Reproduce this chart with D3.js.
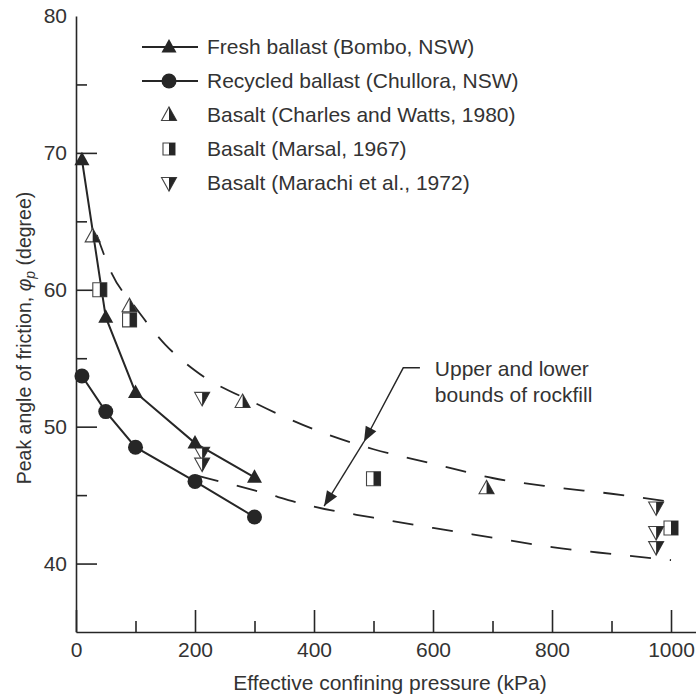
<!DOCTYPE html>
<html>
<head>
<meta charset="utf-8">
<script src="https://cdn.jsdelivr.net/npm/d3@7"></script>
<style>
  body { margin: 0; background: #fff; }
  text { font-family: "Liberation Sans", Arial, sans-serif; fill: #333; }
</style>
</head>
<body>
<div id="wrapper"></div>
<script>
// values (kPa, degrees)
const freshX = [10, 50, 100, 200, 300]
const freshY = [69.5, 58.0, 52.5, 48.8, 46.3]
const recycledX = [10, 50, 100, 200, 300]
const recycledY = [53.7, 51.1, 48.5, 46.0, 43.4]
const charlesX = [28, 90, 280, 690]
const charlesY = [63.9, 58.8, 51.8, 45.5]
const marsalX = [40, 90, 500, 1000]
const marsalY = [60.0, 57.8, 46.2, 42.6]
const marachiX = [212, 212, 212, 975, 975, 975]
const marachiY = [52.1, 48.1, 47.3, 44.1, 42.3, 41.2]

// upper and lower bounds of rockfill (dashed)
const upperX = [35, 60, 100, 150, 200, 300, 400, 500, 600, 700, 800, 900, 1000]
const upperY = [64.0, 61.2, 58.7, 56.0, 54.1, 51.75, 49.8, 48.35, 47.3, 46.25, 45.6, 45.1, 44.5]
const lowerX = [205, 300, 400, 500, 600, 700, 800, 900, 1000]
const lowerY = [46.4, 45.35, 44.15, 43.35, 42.6, 41.9, 41.2, 40.7, 40.25]

const xMajor = [0, 200, 400, 600, 800, 1000]
const xMinor = [100, 300, 500, 700, 900]
const yMajor = [40, 50, 60, 70, 80]
const yMinor = [45, 55, 65, 75]

const legendLabels = [
  "Fresh ballast (Bombo, NSW)",
  "Recycled ballast (Chullora, NSW)",
  "Basalt (Charles and Watts, 1980)",
  "Basalt (Marsal, 1967)",
  "Basalt (Marachi et al., 1972)"
]

const ink = "#262626"

function drawChart() {
  const width = 696
  const height = 695

  const svg = d3.select("#wrapper")
    .append("svg")
      .attr("width", width)
      .attr("height", height)

  // scales: left axis sits at 76px, bottom axis at 632px
  const x = d3.scaleLinear().domain([0, 1042]).range([76, 696])
  const y = d3.scaleLinear().domain([35, 80]).range([632, 16])

  const zip = (xs, ys) => xs.map((d, i) => [d, ys[i]])

  // axes (ticks point inward)
  svg.append("g")
    .attr("transform", `translate(0, ${y(35)})`)
    .call(d3.axisBottom(x).tickValues(xMajor).tickFormat(d3.format("d"))
      .tickSize(-22).tickSizeOuter(0).tickPadding(10))
  svg.append("g")
    .attr("transform", `translate(0, ${y(35)})`)
    .call(d3.axisBottom(x).tickValues(xMinor).tickSize(-11).tickSizeOuter(0).tickFormat(""))
    .select(".domain").remove()

  const yAxis = svg.append("g")
    .attr("transform", `translate(${x(0)}, 0)`)
    .call(d3.axisLeft(y).tickValues(yMajor).tickSize(-21).tickSizeOuter(0).tickPadding(9))
  svg.append("g")
    .attr("transform", `translate(${x(0)}, 0)`)
    .call(d3.axisLeft(y).tickValues(yMinor).tickSize(-11).tickSizeOuter(0).tickFormat(""))
    .select(".domain").remove()

  // no tick mark at the very top
  yAxis.selectAll(".tick").filter(d => d === 80).select("line").remove()

  svg.selectAll(".domain, .tick line")
    .attr("stroke", ink)
    .attr("stroke-width", 1.6)
  svg.selectAll(".tick text")
    .attr("font-size", 21)
    .attr("font-family", "Liberation Sans, Arial, sans-serif")
    .attr("fill", "#333")

  // axis titles
  svg.append("text")
    .attr("x", 390)
    .attr("y", 690)
    .attr("text-anchor", "middle")
    .attr("font-size", 21)
    .text("Effective confining pressure (kPa)")

  const yTitle = svg.append("text")
    .attr("transform", "translate(31, 338) rotate(-90)")
    .attr("text-anchor", "middle")
    .attr("font-size", 19.5)
  yTitle.append("tspan").text("Peak angle of friction, ")
  yTitle.append("tspan").attr("font-style", "italic").text("\u03c6")
  yTitle.append("tspan").attr("font-style", "italic").attr("font-size", 14).attr("dy", 4).text("p")
  yTitle.append("tspan").attr("dy", -4).text(" (degree)")

  // dashed bounds
  const curve = d3.line()
    .x(d => x(d[0]))
    .y(d => y(d[1]))
    .curve(d3.curveMonotoneX)

  svg.selectAll(".bound")
    .data([zip(upperX, upperY), zip(lowerX, lowerY)])
    .join("path")
      .attr("class", "bound")
      .attr("d", curve)
      .attr("fill", "none")
      .attr("stroke", ink)
      .attr("stroke-width", 1.8)
      .attr("stroke-dasharray", "21,19")

  // solid series lines
  const straight = d3.line().x(d => x(d[0])).y(d => y(d[1]))
  svg.selectAll(".series")
    .data([zip(freshX, freshY), zip(recycledX, recycledY)])
    .join("path")
      .attr("class", "series")
      .attr("d", straight)
      .attr("fill", "none")
      .attr("stroke", ink)
      .attr("stroke-width", 2)

  // marker drawing helpers
  const triUp = "M0,-8L7.5,5.5L-7.5,5.5Z"
  const triUpHalf = "M0,-8L7.5,5.5L0,5.5Z"
  const triDown = "M-7.5,-5.5L7.5,-5.5L0,8Z"
  const triDownHalf = "M0,-5.5L7.5,-5.5L0,8Z"
  const square = "M-7,-7L7,-7L7,7L-7,7Z"
  const squareHalf = "M0,-7L7,-7L7,7L0,7Z"

  function fullMarker(g, shape) {
    if (shape === "circle") {
      g.append("circle").attr("r", 7.5).attr("fill", ink)
    } else {
      g.append("path").attr("d", triUp).attr("fill", ink)
    }
  }

  function halfMarker(g, outline, half) {
    g.append("path").attr("d", outline)
      .attr("fill", "#fff").attr("stroke", "#444").attr("stroke-width", 1.1)
    g.append("path").attr("d", half).attr("fill", ink)
  }

  function plotPoints(xs, ys, draw) {
    svg.append("g")
      .selectAll("g")
      .data(zip(xs, ys))
      .join("g")
        .attr("transform", d => `translate(${x(d[0])}, ${y(d[1])})`)
        .each(function() { draw(d3.select(this)) })
  }

  plotPoints(charlesX, charlesY, g => halfMarker(g, triUp, triUpHalf))
  plotPoints(marsalX, marsalY, g => halfMarker(g, square, squareHalf))
  plotPoints(marachiX, marachiY, g => halfMarker(g, triDown, triDownHalf))
  plotPoints(freshX, freshY, g => fullMarker(g, "tri"))
  plotPoints(recycledX, recycledY, g => fullMarker(g, "circle"))

  // annotation with two arrows
  const bend = [x(578), y(54.3)]
  const corner = [x(550), y(54.3)]
  const upTip = [x(484), y(48.9)]
  const lowTip = [x(417), y(44.2)]

  svg.append("path")
    .attr("d", d3.line()([bend, corner, upTip]))
    .attr("fill", "none").attr("stroke", ink).attr("stroke-width", 1.4)
  svg.append("path")
    .attr("d", d3.line()([upTip, lowTip]))
    .attr("fill", "none").attr("stroke", ink).attr("stroke-width", 1.4)

  function arrowHead(from, to) {
    const ang = Math.atan2(to[1] - from[1], to[0] - from[0]) * 180 / Math.PI
    svg.append("path")
      .attr("d", "M0,0L-15,-6L-15,6Z")
      .attr("fill", ink)
      .attr("transform", `translate(${to[0]}, ${to[1]}) rotate(${ang})`)
  }
  arrowHead(corner, upTip)
  arrowHead(upTip, lowTip)

  const note = svg.append("text")
    .attr("x", x(603))
    .attr("font-size", 21)
  note.append("tspan").attr("x", x(603)).attr("y", y(53.7)).text("Upper and lower")
  note.append("tspan").attr("x", x(603)).attr("y", y(51.8)).text("bounds of rockfill")

  // legend
  const legend = svg.append("g").attr("transform", "translate(0, 47)")
  const rows = legend.selectAll("g")
    .data(legendLabels)
    .join("g")
      .attr("transform", (d, i) => `translate(0, ${i * 34})`)

  rows.append("text")
    .attr("x", 207)
    .attr("dy", "0.35em")
    .attr("font-size", 21)
    .text(d => d)

  rows.filter((d, i) => i < 2)
    .append("line")
      .attr("x1", 142).attr("x2", 198)
      .attr("stroke", ink).attr("stroke-width", 2)

  rows.each(function(d, i) {
    const g = d3.select(this).append("g").attr("transform", "translate(169, 0)")
    if (i === 0) fullMarker(g, "tri")
    if (i === 1) fullMarker(g, "circle")
    if (i === 2) halfMarker(g, triUp, triUpHalf)
    if (i === 3) halfMarker(g, "M-6,-6L6,-6L6,6L-6,6Z", "M0,-6L6,-6L6,6L0,6Z")
    if (i === 4) halfMarker(g, triDown, triDownHalf)
  })
}

drawChart()
</script>
</body>
</html>
